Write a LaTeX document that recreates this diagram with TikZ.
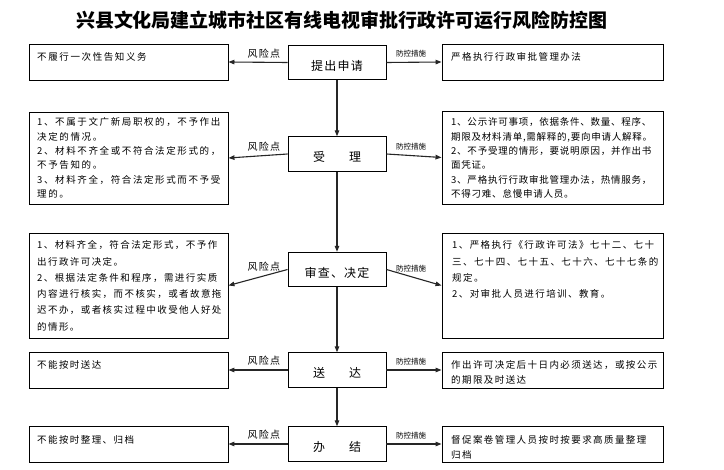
\documentclass[tikz,border=0pt]{standalone}
\usepackage{fontspec}
\usetikzlibrary{arrows.meta}
\newfontfamily\cjk{Noto Sans CJK SC}
\newfontfamily\cjkbox[LetterSpace=15]{Noto Sans CJK SC}
\newfontfamily\cjkboxw[LetterSpace=17]{Noto Sans CJK SC}
\newfontfamily\cjkboxn[LetterSpace=8]{Noto Sans CJK SC}
\newfontfamily\cjkmid[LetterSpace=10]{Noto Sans CJK SC}
\newfontfamily\cjkrisk[LetterSpace=13]{Noto Sans CJK SC}
\tikzset{
  box/.style={draw=black, line width=0.9pt, inner sep=0pt, fill=white},
  midbox/.style={box, minimum width=98pt, minimum height=34.5pt,
    font=\cjkmid\fontsize{12}{14}\selectfont, text height=17pt, text depth=1pt},
  leftbox/.style={box, minimum width=199pt},
  rightbox/.style={box, minimum width=221pt},
  arr/.style={-{Triangle[length=6pt,width=4.5pt]}, line width=1.1pt, draw=black!85},
  txt/.style={anchor=north west, inner sep=0pt, align=left,
    font=\cjkbox\fontsize{9.5}{14.4}\selectfont},
  risk/.style={font=\cjkrisk\fontsize{10}{12}\selectfont, inner sep=0pt},
  ctrl/.style={font=\cjk\fontsize{7.5}{9}\selectfont, inner sep=0pt},
}
\begin{document}
\begin{tikzpicture}[x=1pt,y=-1pt]
\fill[white] (0,0) rectangle (724,470);
\useasboundingbox (0,0) rectangle (724,470);

\node[font=\cjk\bfseries\fontsize{19}{22}\selectfont] (title) at (342,20)
  {兴县文化局建立城市社区有线电视审批行政许可运行风险防控图};

% centre column
\node[midbox] (b1) at (337,62.5) {提出申请};
\node[midbox] (b2) at (337,154) {受\hspace{24pt}理};
\node[midbox] (b3) at (337,269.5) {审查、决定};
\node[midbox] (b4) at (337,370) {送\hspace{24pt}达};
\node[midbox] (b5) at (337,444) {办\hspace{24pt}结};

% left column
\node[leftbox, minimum height=36pt] (l1) at (128.5,62) {};
\node[leftbox, minimum height=92pt] (l2) at (128.5,158) {};
\node[leftbox, minimum height=105pt] (l3) at (128.5,285.5) {};
\node[leftbox, minimum height=36pt] (l4) at (128.5,370) {};
\node[leftbox, minimum height=36pt] (l5) at (128.5,444) {};

% right column
\node[rightbox, minimum height=36pt] (r1) at (552.5,62) {};
\node[rightbox, minimum height=93pt] (r2) at (552.5,157.5) {};
\node[rightbox, minimum height=105pt] (r3) at (552.5,285.5) {};
\node[rightbox, minimum height=36pt] (r4) at (552.5,370) {};
\node[rightbox, minimum height=36pt] (r5) at (552.5,444) {};

% texts
\node[txt, font=\cjkboxw\fontsize{9.5}{14.4}\selectfont] (l1t) at (37,52.5) {不履行一次性告知义务};
\node[txt, font=\cjkboxw\fontsize{9.5}{14.4}\selectfont] (l2t) at (37,117.5) {1、不属于文广新局职权的，不予作出\\决定的情况。\\2、材料不齐全或不符合法定形式的，\\不予告知的。\\3、材料齐全，符合法定形式而不予受\\理的。};
\node[txt, font=\cjkbox\fontsize{9.5}{16.3}\selectfont] (l3t) at (37,240.5) {1、材料齐全，符合法定形式，不予作\\出行政许可决定。\\2、根据法定条件和程序，需进行实质\\内容进行核实，而不核实，或者故意拖\\迟不办，或者核实过程中收受他人好处\\的情形。};
\node[txt] (l4t) at (37,360.5) {不能按时送达};
\node[txt] (l5t) at (37,435.5) {不能按时整理、归档};

\node[txt] (r1t) at (451,52.5) {严格执行行政审批管理办法};
\node[txt, font=\cjkboxn\fontsize{9.5}{14.4}\selectfont] (r2t) at (451,117.5) {1、公示许可事项，依据条件、数量、程序、\\期限及材料清单,需解释的,要向申请人解释。\\2、不予受理的情形，要说明原因，并作出书\\面凭证。\\3、严格执行行政审批管理办法，热情服务，\\不得刁难、怠慢申请人员。};
\node[txt, font=\cjkbox\fontsize{9.5}{16.3}\selectfont] (r3t) at (452,240.5) {1、严格执行《行政许可法》七十二、七十\\三、七十四、七十五、七十六、七十七条的\\规定。\\2、对审批人员进行培训、教育。};
\node[txt] (r4t) at (451,360.5) {作出许可决定后十日内必须送达，或按公示\\的期限及时送达};
\node[txt, font=\cjkbox\fontsize{9.5}{15}\selectfont] (r5t) at (451,435.5) {督促案卷管理人员按时按要求高质量整理\\归档};

% flow arrows
\draw[arr] (b1.south) -- (b2.north);
\draw[arr] (b2.south) -- (b3.north);
\draw[arr] (b3.south) -- (b4.north);
\draw[arr] (b4.south) -- (b5.north);

% risk / control arrows
\foreach \i in {1,...,5}{
  \draw[arr] (b\i.west) -- node[risk, pos=0.4, yshift=9pt] {风险点} (l\i.east);
  \draw[arr] (b\i.east) -- node[ctrl, pos=0.45, yshift=8.5pt] {防控措施} (r\i.west);
}
\end{tikzpicture}
\end{document}
